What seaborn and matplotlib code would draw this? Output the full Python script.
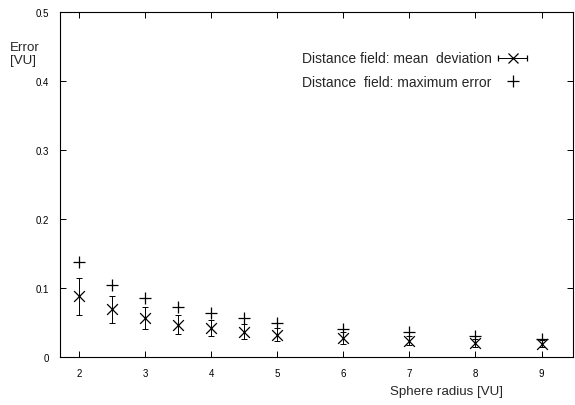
import matplotlib
matplotlib.use("Agg")
import matplotlib.pyplot as plt
import numpy as np
import pandas as pd
import seaborn as sns
from matplotlib.container import ErrorbarContainer
from matplotlib.legend_handler import HandlerErrorbar
from matplotlib.lines import Line2D

radius = [2, 2.5, 3, 3.5, 4, 4.5, 5, 6, 7, 8, 9]
mean_dev = [0.088, 0.069, 0.057, 0.047, 0.042, 0.036, 0.032, 0.027, 0.023, 0.020, 0.019]
dev_low = [0.061, 0.049, 0.040, 0.034, 0.030, 0.026, 0.023, 0.019, 0.017, 0.015, 0.014]
dev_high = [0.115, 0.089, 0.073, 0.061, 0.054, 0.048, 0.042, 0.036, 0.030, 0.026, 0.025]
max_err = [0.138, 0.105, 0.086, 0.073, 0.064, 0.056, 0.050, 0.041, 0.036, 0.031, 0.026]

x_ticks = [2, 3, 4, 5, 6, 7, 8, 9]
y_ticks = [0, 0.1, 0.2, 0.3, 0.4, 0.5]

df = pd.DataFrame({"radius": radius, "mean": mean_dev, "low": dev_low,
                   "high": dev_high, "max": max_err})

sns.set_theme(style="ticks")
plt.rcParams["font.family"] = ["Liberation Sans", "DejaVu Sans"]

fig = plt.figure(figsize=(5.75, 4.06), dpi=100)
ax = fig.add_axes([0.104, 0.118, 0.893, 0.85])

ax.errorbar(df["radius"], df["mean"],
            yerr=[df["mean"] - df["low"], df["high"] - df["mean"]],
            fmt="none", ecolor="black", elinewidth=0.7, capsize=2.2, capthick=0.7)
sns.scatterplot(data=df, x="radius", y="mean", marker="x", s=60, color="black",
                linewidth=0.9, ax=ax, zorder=3)
sns.scatterplot(data=df, x="radius", y="max", marker="+", s=70, color="black",
                linewidth=0.9, ax=ax, zorder=3)

ax.set_xlim(1.71, 9.48)
ax.set_ylim(0, 0.5)
ax.set_xticks(x_ticks)
ax.set_yticks(y_ticks)
ax.set_yticklabels(["0", "0.1", "0.2", "0.3", "0.4", "0.5"])
ax.tick_params(direction="in", length=4, width=0.7, labelsize=7, colors="black",
               top=True, right=True, pad=8)
for s in ax.spines.values():
    s.set_linewidth(0.8)
    s.set_color("black")
ax.set_xlabel("")
ax.set_ylabel("")

fig.text(0.776, 0.02, "Sphere radius [VU]", ha="center", va="bottom", fontsize=9.6)
fig.text(0.018, 0.866, "Error\n[VU]", ha="left", va="center", fontsize=9.6,
         linespacing=1.1)

# legend sample for the mean deviation: x marker with horizontal bar and caps
key_eb = ax.errorbar([np.nan], [np.nan], xerr=[[1.0], [1.0]], fmt="x", color="black",
                     markersize=7, markeredgewidth=0.9, elinewidth=0.7,
                     capsize=2.2, capthick=0.7)
key_max = Line2D([], [], color="black", marker="+", markersize=8.5, linestyle="none",
                 markeredgewidth=0.9)
labels = ["Distance field: mean  deviation", "Distance  field: maximum error"]
ax.legend([key_eb, key_max], labels, loc="upper right", bbox_to_anchor=(0.925, 0.906),
          frameon=False, markerfirst=False, fontsize=10, handlelength=2.2,
          labelspacing=0.7, handletextpad=0.4, borderpad=0.0,
          handler_map={ErrorbarContainer: HandlerErrorbar(xerr_size=1.05)})

fig.savefig("out.png", dpi=100)
